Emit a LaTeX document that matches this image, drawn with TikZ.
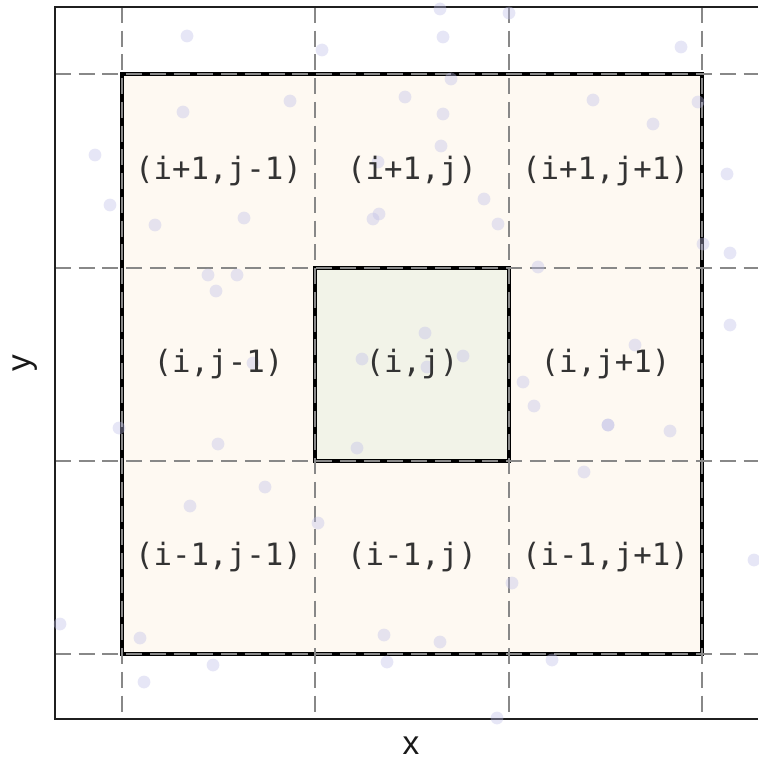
\documentclass[tikz,border=0pt]{standalone}
\usepackage{fontspec}
\setmainfont{Liberation Sans}
\newfontfamily\cellfont{DejaVu Sans Mono}
\usetikzlibrary{positioning}
\definecolor{nbfill}{RGB}{254,249,242}
\definecolor{ctrfill}{RGB}{242,243,232}
\definecolor{dotc}{RGB}{190,190,232}
\definecolor{gridc}{RGB}{136,136,136}

\begin{document}
\begin{tikzpicture}[x=0.02cm,y=-0.02cm,
  gridln/.style={gridc,line width=1.2pt,dash pattern=on 0.32cm off 0.155cm},
  frameln/.style={black!88,line width=1.4pt},
  edge/.style={black,line width=2pt},
  cell/.style={font=\cellfont\fontsize{17.5}{20}\selectfont,text=black!80,inner sep=0pt},
  axlab/.style={font=\fontsize{19}{22}\selectfont,text=black!90,inner sep=0pt},
  pt/.style={fill=dotc,fill opacity=0.38}]
\useasboundingbox (0,0) rectangle (758,760);
% neighbourhood and centre cell
\fill[nbfill] (122,74) rectangle (702,654);
\fill[ctrfill] (315,268) rectangle (509,461);
\draw[edge] (122,74) rectangle (702,654);
\draw[edge] (315,268) rectangle (509,461);
% grid
\foreach \g in {122,315,509,702} \draw[gridln] (\g,7) -- (\g,719);
\foreach \g in {74,268,461,654} \draw[gridln] (55,\g) -- (758,\g);
% frame
\draw[frameln] (758,7) -- (55,7) -- (55,719) -- (758,719);
% particles
\foreach \p in {(187,36),(322,50),(440,9),(509,13),(443,37),(681,47),
  (183,112),(290,101),(405,97),(451,79),(443,114),(593,100),(653,124),(698,102),
  (95,155),(441,146),(378,162),(727,174),
  (110,205),(155,225),(244,218),(373,219),(379,214),(484,199),(498,224),
  (703,244),(730,253),(538,267),(208,275),(237,275),(216,291),
  (730,325),(425,333),(635,345),(362,359),(463,356),(427,367),(253,363),
  (523,382),(534,406),(608,425),(608,425),(670,431),(119,428),(218,444),(357,448),
  (584,472),(265,487),(190,506),(318,523),(754,560),(512,583),
  (60,624),(140,638),(384,635),(440,642),(552,660),(213,665),(387,662),(144,682),(497,718)}
  \fill[pt] \p circle[radius=0.128cm];
% cell labels
\foreach \r/\ry/\rl in {0/171/i+1,1/364/i,2/557/i-1}
  \foreach \c/\cx/\cl in {0/218.5/j-1,1/412/j,2/605.5/j+1}
    \node[cell] (c\r\c) at (\cx,\ry) {(\rl,\cl)};
% axes
\node[axlab] (xlab) at (411,746) {x};
\node[axlab,rotate=90] (ylab) at (25.5,363) {y};
\end{tikzpicture}
\end{document}
